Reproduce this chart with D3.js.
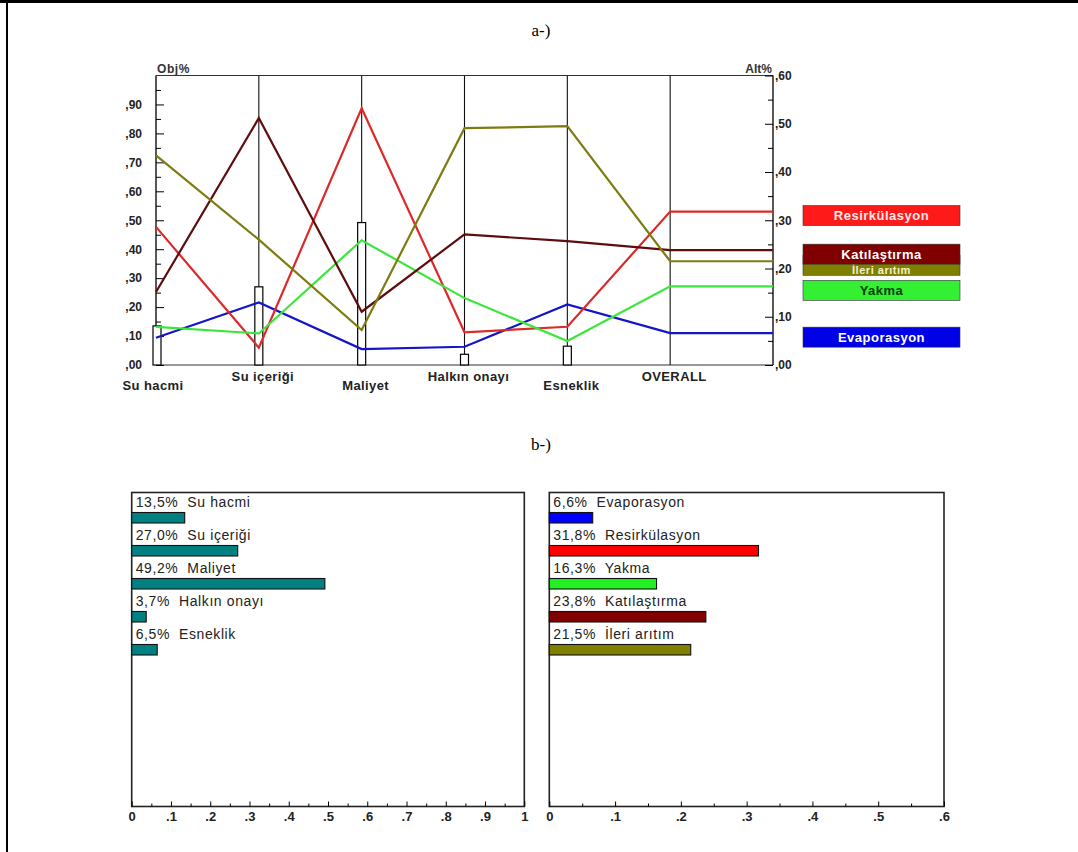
<!DOCTYPE html>
<html>
<head>
<meta charset="utf-8">
<script src="https://cdn.jsdelivr.net/npm/d3@7"></script>
<style>
  html, body { margin: 0; padding: 0; background: #fff; }
  svg { display: block; font-family: "Liberation Sans", Arial, sans-serif; }
</style>
</head>
<body>
<svg id="chart" width="1078" height="852"></svg>
<script>
// ---------------- DATA ----------------
const criteria = ["Su hacmi", "Su içeriği", "Maliyet", "Halkın onayı", "Esneklik"];
const overallLabel = "OVERALL";
const criteriaWeights = [0.135, 0.270, 0.492, 0.037, 0.065];

const alternatives = ["Evaporasyon", "Resirkülasyon", "Yakma", "Katılaştırma", "İleri arıtım"];
const evaporasyonScores   = [0.094, 0.216, 0.055, 0.063, 0.209];
const resirkulasyonScores = [0.477, 0.060, 0.887, 0.113, 0.132];
const yakmaScores         = [0.132, 0.109, 0.431, 0.231, 0.083];
const katilastirmaScores  = [0.252, 0.853, 0.184, 0.451, 0.428];
const ileriAritimScores   = [0.724, 0.433, 0.121, 0.818, 0.825];
const overallPct          = [6.6, 31.8, 16.3, 23.8, 21.5];

const objTicks = [0, 0.1, 0.2, 0.3, 0.4, 0.5, 0.6, 0.7, 0.8, 0.9];
const altTicks = [0, 10, 20, 30, 40, 50, 60];
const weightAxisTicks = [0, 0.1, 0.2, 0.3, 0.4, 0.5, 0.6, 0.7, 0.8, 0.9, 1];
const altAxisTicks = [0, 0.1, 0.2, 0.3, 0.4, 0.5, 0.6];

// ---------------- STYLE ----------------
const lineColors = ["#1414c8", "#dc2a2a", "#3ae63a", "#5e0c0c", "#7c7c12"];
const boxColors  = ["#0000e6", "#ff1a1a", "#33f033", "#800000", "#808000"];
const boxText    = ["#ffffff", "#ffe8e8", "#0a3a0a", "#ffffff", "#f4f0c8"];
const barColors  = ["#0000ff", "#ff0000", "#22f022", "#800000", "#808000"];
const teal = "#008080";
const series = [evaporasyonScores, resirkulasyonScores, yakmaScores, katilastirmaScores, ileriAritimScores];

const svg = d3.select("#chart");
const font = "'Liberation Sans', Arial, sans-serif";

// outer frame
svg.append("line").attr("x1", 0).attr("x2", 1078).attr("y1", 1.5).attr("y2", 1.5)
  .attr("stroke", "#000").attr("stroke-width", 3);
svg.append("line").attr("x1", 7).attr("x2", 7).attr("y1", 0).attr("y2", 852)
  .attr("stroke", "#000").attr("stroke-width", 2);

// titles
svg.append("text").attr("x", 541).attr("y", 36).attr("text-anchor", "middle")
  .attr("font-family", "'Liberation Serif', 'DejaVu Serif', serif").attr("font-size", 17).text("a-)");
svg.append("text").attr("x", 541).attr("y", 450).attr("text-anchor", "middle")
  .attr("font-family", "'Liberation Serif', 'DejaVu Serif', serif").attr("font-size", 17).text("b-)");

// ---------------- TOP: sensitivity chart ----------------
const x0 = 156, x1 = 773, yTop = 75.5, yBot = 365;
const xIdx = d3.scaleLinear().domain([0, 6]).range([x0, x1]);
const yL = d3.scaleLinear().domain([0, 1]).range([yBot, yTop]);
const yR = d3.scaleLinear().domain([0, 60]).range([yBot, yTop]);

const topG = svg.append("g");

// frame
topG.append("line").attr("x1", x0).attr("x2", x1).attr("y1", yTop).attr("y2", yTop).attr("stroke", "#333").attr("stroke-width", 1.2);
topG.append("line").attr("x1", x0).attr("x2", x1).attr("y1", yBot).attr("y2", yBot).attr("stroke", "#333").attr("stroke-width", 1.2);
for (let i = 0; i <= 6; i++) {
  topG.append("line").attr("x1", xIdx(i)).attr("x2", xIdx(i)).attr("y1", yTop).attr("y2", yBot)
    .attr("stroke", "#111").attr("stroke-width", (i === 0 || i === 6) ? 1.4 : 1.1);
}

// left axis
const leftAx = topG.append("g").attr("transform", `translate(${x0},0)`)
  .call(d3.axisLeft(yL).tickValues(objTicks).tickSize(-8).tickPadding(14)
    .tickFormat(d => "," + d3.format(".2f")(d).split(".")[1]));
leftAx.select(".domain").remove();
leftAx.selectAll("text").attr("font-family", font).attr("font-size", 12).attr("font-weight", "bold").attr("fill", "#222");
const leftMinor = topG.append("g").attr("transform", `translate(${x0},0)`)
  .call(d3.axisLeft(yL).tickValues(d3.range(0.05, 1, 0.1)).tickSize(-5).tickFormat(""));
leftMinor.select(".domain").remove();

// right axis
const rightAx = topG.append("g").attr("transform", `translate(${x1},0)`)
  .call(d3.axisRight(yR).tickValues(altTicks).tickSize(-8).tickPadding(2)
    .tickFormat(d => "," + d3.format("02d")(d)));
rightAx.select(".domain").remove();
rightAx.selectAll("text").attr("font-family", font).attr("font-size", 12).attr("font-weight", "bold").attr("fill", "#222");
const rightMinor = topG.append("g").attr("transform", `translate(${x1},0)`)
  .call(d3.axisRight(yR).tickValues(d3.range(5, 60, 10)).tickSize(-5).tickFormat(""));
rightMinor.select(".domain").remove();

topG.append("text").attr("x", x0 + 1).attr("y", 73).attr("font-family", font).attr("font-size", 12)
  .attr("font-weight", "bold").attr("letter-spacing", 0.6).attr("fill", "#333").text("Obj%");
topG.append("text").attr("x", x1 - 1).attr("y", 73).attr("text-anchor", "end").attr("font-family", font)
  .attr("font-size", 12).attr("font-weight", "bold").attr("fill", "#333").text("Alt%");

// weight bars on axes
topG.selectAll("rect.w").data(criteriaWeights).enter().append("rect")
  .attr("x", (d, i) => xIdx(i) - 4 + (i === 0 ? 1 : 0))
  .attr("y", d => yL(d))
  .attr("width", 8)
  .attr("height", d => yBot - yL(d))
  .attr("fill", "#fff").attr("stroke", "#000").attr("stroke-width", 1.2);

// criterion labels
const allCrit = criteria.concat([overallLabel]);
topG.selectAll("text.crit").data(allCrit).enter().append("text")
  .attr("x", (d, i) => xIdx(i) + (i === 0 ? -3 : 4))
  .attr("y", (d, i) => i % 2 === 0 ? 390 : 381)
  .attr("text-anchor", "middle")
  .attr("font-family", font).attr("font-size", 13).attr("font-weight", "bold")
  .attr("letter-spacing", 0.4).attr("fill", "#222").text(d => d);

// lines
const lineGen = d3.line().x(p => p[0]).y(p => p[1]);
series.forEach((vals, k) => {
  const pts = vals.map((v, i) => [xIdx(i), yL(v)]);
  pts.push([xIdx(5), yR(overallPct[k])]);
  pts.push([xIdx(6), yR(overallPct[k])]);
  topG.append("path").attr("d", lineGen(pts)).attr("fill", "none")
    .attr("stroke", lineColors[k]).attr("stroke-width", 2.2).attr("stroke-linejoin", "miter");
});

// legend boxes at overall values (draw lowest first so higher ones overlap)
const desc = d3.range(alternatives.length).sort((a, b) => overallPct[b] - overallPct[a]);
const visTop = {};
let prevBottom = -Infinity;
desc.forEach(k => {
  const yc = yR(overallPct[k]);
  visTop[k] = Math.max(yc - 6, prevBottom);
  prevBottom = yc + 14;
});
desc.slice().reverse().forEach(k => {
  const yc = yR(overallPct[k]);
  const g = topG.append("g");
  g.append("rect").attr("x", 803).attr("y", yc - 6).attr("width", 157).attr("height", 20)
    .attr("fill", boxColors[k]).attr("stroke", "#333").attr("stroke-width", 0.6);
  const h = yc + 14 - visTop[k];
  const fs = Math.min(13, h);
  g.append("text").attr("x", 881.5).attr("y", (visTop[k] + yc + 14) / 2 + fs * 0.36)
    .attr("text-anchor", "middle")
    .attr("font-family", font).attr("font-size", fs).attr("font-weight", "bold")
    .attr("letter-spacing", 0.5).attr("fill", boxText[k]).text(alternatives[k]);
});

// ---------------- BOTTOM: weight bar panels ----------------
function pct(v) { return d3.format(".1f")(v * 100).replace(".", ",") + "%"; }
function panel(xl, xr, domainMax, ticks, names, values, colors) {
  const pTop = 492.5, pBot = 806.5;
  const x = d3.scaleLinear().domain([0, domainMax]).range([xl, xr]);
  const y = d3.scaleBand().domain(names).range([pTop, pTop + 33 * names.length]);
  const g = svg.append("g");
  g.append("rect").attr("x", xl).attr("y", pTop).attr("width", xr - xl).attr("height", pBot - pTop)
    .attr("fill", "none").attr("stroke", "#222").attr("stroke-width", 1.6);
  const ax = g.append("g").attr("transform", `translate(0,${pBot})`)
    .call(d3.axisBottom(x).tickValues(ticks).tickSize(-5).tickPadding(5)
      .tickFormat(d => d === 0 ? "0" : (d === 1 ? "1" : "." + Math.round(d * 10))));
  ax.select(".domain").remove();
  ax.selectAll("text").attr("font-family", font).attr("font-size", 13).attr("font-weight", "bold").attr("fill", "#222");
  const minor = g.append("g").attr("transform", `translate(0,${pBot})`)
    .call(d3.axisBottom(x).tickValues(ticks.slice(0, -1).map(t => t + 0.05)).tickSize(-3).tickFormat(""));
  minor.select(".domain").remove();
  names.forEach((n, i) => {
    g.append("text").attr("x", xl + 4).attr("y", y(n) + 14)
      .attr("font-family", font).attr("font-size", 14).attr("letter-spacing", 0.6).attr("fill", "#222")
      .attr("xml:space", "preserve").text(pct(values[i]) + "  " + n);
    g.append("rect").attr("x", x(0)).attr("y", y(n) + 20).attr("width", x(values[i]) - x(0)).attr("height", 10.5)
      .attr("fill", colors[i]).attr("stroke", "#111").attr("stroke-width", 1.1);
  });
}
panel(131.7, 524.3, 1, weightAxisTicks, criteria, criteriaWeights, criteria.map(() => teal));
panel(549.3, 944, 0.6, altAxisTicks, alternatives, overallPct.map(v => v / 100), barColors);
</script>
</body>
</html>
